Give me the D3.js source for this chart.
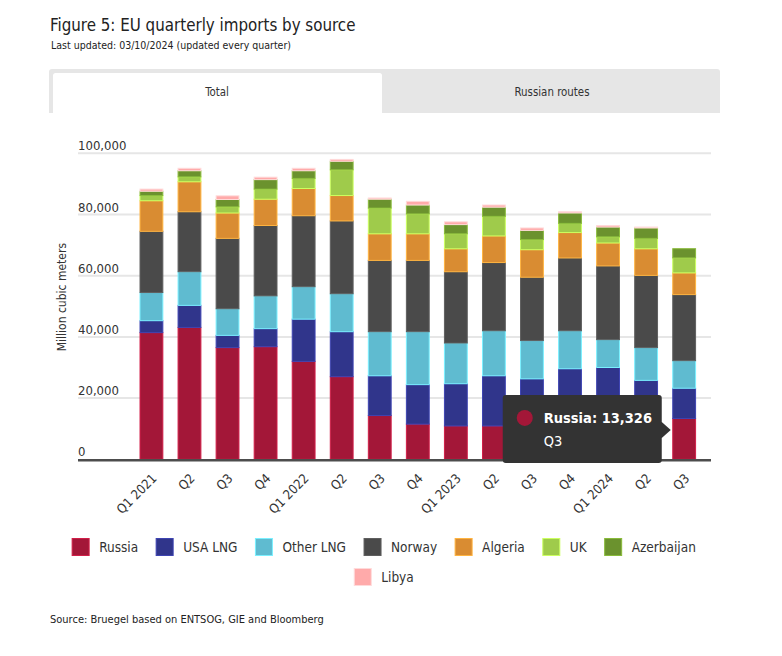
<!DOCTYPE html>
<html>
<head>
  <meta charset="utf-8">
  <script src="https://d3js.org/d3.v7.min.js"></script>
  <style>
    body { margin: 0; background: #fff; }
    svg { font-family: "Liberation Sans Narrow", "DejaVu Sans Condensed", sans-serif; }
    .grid line { stroke: #e6e6e6; stroke-width: 2px; }
    .tick-label { font-size: 13px; fill: #333; }
    .legend-label { font-size: 13.5px; fill: #333; }
  </style>
</head>
<body>
  <svg id="chart" width="782" height="656"></svg>

  <script>
    // quarter labels (x axis)
    const quarters = ["Q1 2021", "Q2", "Q3", "Q4", "Q1 2022", "Q2", "Q3", "Q4",
                      "Q1 2023", "Q2", "Q3", "Q4", "Q1 2024", "Q2", "Q3"];

    // series, million cubic meters per quarter
    const russia     = [41400, 43100, 36500, 36800, 32000, 27000, 14300, 11500, 10900, 10900, 11800, 12300, 12800, 12400, 13326];
    const usaLng     = [3900, 7200, 4000, 5900, 13800, 14700, 13000, 12900, 13800, 16400, 14500, 17300, 17200, 13400, 9900];
    const otherLng   = [9200, 11000, 8700, 10700, 10600, 12400, 14400, 17300, 13300, 14700, 12500, 12400, 9100, 10700, 9000];
    const norway     = [20000, 19600, 23000, 23000, 23200, 23800, 23300, 23300, 23300, 22300, 20700, 23800, 24100, 23600, 21600];
    const algeria    = [10000, 9800, 8300, 8600, 8900, 8300, 8700, 8700, 7500, 8700, 9000, 8300, 7500, 8700, 7100];
    const uk         = [1700, 1600, 2000, 3300, 3300, 8400, 8400, 6500, 4900, 6400, 3300, 3000, 2000, 3400, 4900];
    const azerbaijan = [1400, 2000, 2400, 3100, 2500, 2800, 2900, 2900, 3000, 3000, 3000, 3400, 3200, 3400, 3000];
    const libya      = [700, 800, 1200, 800, 800, 600, 400, 1200, 900, 700, 800, 400, 500, 300, 0];

    const seriesNames = ["Russia", "USA LNG", "Other LNG", "Norway", "Algeria", "UK", "Azerbaijan", "Libya"];
    const seriesValues = [russia, usaLng, otherLng, norway, algeria, uk, azerbaijan, libya];
    const seriesColors = ["#a31738", "#30358b", "#5fbbd0", "#4a4a4a", "#d98c32", "#9fcb4b", "#6b922e", "#ffaaaa"];

    const yTicks = [0, 20000, 40000, 60000, 80000, 100000];

    // tooltip shows the last Russia value
    const tipSeries = 0;
    const tipIndex = quarters.length - 1;

    const svg = d3.select("svg#chart");

    // header
    svg.append("text").attr("x", 50).attr("y", 31)
      .style("font-size", "16.8px").style("fill", "#222")
      .text("Figure 5: EU quarterly imports by source");
    svg.append("text").attr("x", 51).attr("y", 49)
      .style("font-size", "10.5px").style("fill", "#222")
      .text("Last updated: 03/10/2024 (updated every quarter)");

    // tabs
    svg.append("path")
      .attr("d", "M49,113 V72 Q49,69 52,69 H717 Q720,69 720,72 V113 Z")
      .style("fill", "#e6e6e6");
    svg.append("path")
      .attr("d", "M53,113 V75.5 Q53,73 55.5,73 H379.5 Q382,73 382,75.5 V113 Z")
      .style("fill", "#fff");
    svg.append("text").attr("x", 217).attr("y", 96).attr("text-anchor", "middle")
      .style("font-size", "11.4px").style("fill", "#333").text("Total");
    svg.append("text").attr("x", 552).attr("y", 96).attr("text-anchor", "middle")
      .style("font-size", "11.4px").style("fill", "#333").text("Russian routes");

    // scales
    const x = d3.scaleBand()
      .domain(d3.range(quarters.length))
      .range([128.6, 707])
      .paddingInner(0.4)
      .paddingOuter(0.3);

    const y = d3.scaleLinear()
      .domain([0, 100000])
      .range([459.3, 153.3]);

    const plotLeft = 78, plotRight = 711;

    // gridlines
    svg.append("g").attr("class", "grid")
      .selectAll("line")
      .data(yTicks.filter(t => t > 0))
      .join("line")
      .attr("x1", plotLeft).attr("x2", plotRight)
      .attr("y1", d => y(d)).attr("y2", d => y(d));

    // y labels sit above their gridlines
    svg.append("g")
      .selectAll("text")
      .data(yTicks)
      .join("text")
      .attr("class", "tick-label")
      .attr("x", plotLeft)
      .attr("y", d => y(d) - 3)
      .text(d => d3.format(",")(d));

    svg.append("text")
      .attr("transform", "translate(66," + y(53000) + ") rotate(-90)")
      .attr("text-anchor", "middle")
      .style("font-size", "12px").style("fill", "#333")
      .text("Million cubic meters");

    // stacked bars
    const rows = quarters.map((q, i) => {
      const row = { i: i };
      seriesNames.forEach((name, s) => { row[name] = seriesValues[s][i]; });
      return row;
    });
    const stack = d3.stack().keys(seriesNames)(rows);

    svg.append("g")
      .selectAll("g")
      .data(stack)
      .join("g")
      .style("fill", (d, s) => seriesColors[s])
      .style("stroke", (d, s) => d3.color(seriesColors[s]).brighter(0.7))
      .style("stroke-width", 1)
      .selectAll("rect")
      .data(d => d.filter(p => p[1] - p[0] > 0))
      .join("rect")
      .attr("x", d => x(d.data.i))
      .attr("width", x.bandwidth())
      .attr("y", d => y(d[1]))
      .attr("height", d => y(d[0]) - y(d[1]));

    // baseline
    svg.append("line")
      .attr("x1", plotLeft).attr("x2", plotRight)
      .attr("y1", y(0) + 1).attr("y2", y(0) + 1)
      .style("stroke", "#4d4d4d").style("stroke-width", 2.5);

    // x labels, rotated
    svg.append("g")
      .selectAll("text")
      .data(quarters)
      .join("text")
      .attr("class", "tick-label")
      .attr("text-anchor", "end")
      .attr("transform", (d, i) => "translate(" + (x(i) + x.bandwidth() / 2 + 6) + "," + (y(0) + 20) + ") rotate(-45)")
      .text(d => d);

    // legend
    const legend = svg.append("g");
    const legendRows = [seriesNames.slice(0, 7), seriesNames.slice(7)];
    const legendY = [538.5, 568.5];
    const sw = 17, gapText = 10, gapItem = 18, centerX = 384;
    legendRows.forEach((names, r) => {
      const row = legend.append("g");
      let cx = 0;
      names.forEach(name => {
        const s = seriesNames.indexOf(name);
        const item = row.append("g").attr("transform", "translate(" + cx + ",0)");
        item.append("rect")
          .attr("width", sw).attr("height", sw)
          .style("fill", seriesColors[s])
          .style("stroke", d3.color(seriesColors[s]).brighter(0.7));
        const t = item.append("text")
          .attr("class", "legend-label")
          .attr("x", sw + gapText)
          .attr("y", sw / 2 + 5)
          .text(name);
        cx += sw + gapText + t.node().getComputedTextLength() + gapItem;
      });
      const w = cx - gapItem;
      row.attr("transform", "translate(" + (centerX - w / 2) + "," + legendY[r] + ")");
    });

    // source
    svg.append("text").attr("x", 50).attr("y", 623)
      .style("font-size", "11px").style("fill", "#222")
      .text("Source: Bruegel based on ENTSOG, GIE and Bloomberg");

    // tooltip pointing at the last Russia segment
    const tipVal = seriesValues[tipSeries][tipIndex];
    const tipX = x(tipIndex) - 2;
    const tipY = y(tipVal / 2) - 9;
    const boxW = 159, boxH = 68, arrow = 9;
    const tip = svg.append("g")
      .attr("transform", "translate(" + (tipX - arrow - boxW) + "," + (tipY - 35) + ")");
    tip.append("path")
      .attr("d", "M3,0 H" + (boxW - 3) + " Q" + boxW + ",0 " + boxW + ",3 V" + (35 - 8) +
        " L" + (boxW + arrow) + ",35 L" + boxW + "," + (35 + 8) + " V" + (boxH - 3) +
        " Q" + boxW + "," + boxH + " " + (boxW - 3) + "," + boxH + " H3 Q0," + boxH + " 0," + (boxH - 3) +
        " V3 Q0,0 3,0 Z")
      .style("fill", "#333333");
    tip.append("circle")
      .attr("cx", 22).attr("cy", 23).attr("r", 8)
      .style("fill", seriesColors[tipSeries]);
    tip.append("text")
      .attr("x", 41).attr("y", 28)
      .style("font-size", "14.5px").style("font-weight", "bold").style("fill", "#fff")
      .text(seriesNames[tipSeries] + ": " + d3.format(",")(tipVal));
    tip.append("text")
      .attr("x", 41).attr("y", 51)
      .style("font-size", "14.5px").style("fill", "#fff")
      .text(quarters[tipIndex]);
  </script>
</body>
</html>
